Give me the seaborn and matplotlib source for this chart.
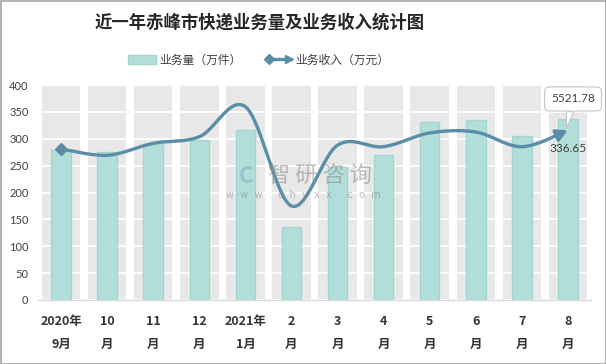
import numpy as np
import pandas as pd
import matplotlib
matplotlib.use("Agg")
import matplotlib.pyplot as plt
import seaborn as sns
from matplotlib.patches import Rectangle, Patch
from matplotlib.lines import Line2D
from matplotlib.legend_handler import HandlerBase

# ---------------- data ----------------
categories = ["2020年\n9月", "10\n月", "11\n月", "12\n月", "2021年\n1月", "2\n月",
              "3\n月", "4\n月", "5\n月", "6\n月", "7\n月", "8\n月"]
volume = [280, 275, 290, 297, 317, 135, 247, 269, 331, 334, 305, 336.65]      # 业务量（万件）
revenue = [4916, 4712, 5102, 5317, 6290, 3061, 5040, 4991, 5438, 5470, 4991, 5521.78]  # 业务收入（万元）
yticks_left = [0, 50, 100, 150, 200, 250, 300, 350, 400]
title = "近一年赤峰市快递业务量及业务收入统计图"
label_bar = "业务量（万件）"
label_line = "业务收入（万元）"

sns.set_theme(style="white")
plt.rcParams['font.family'] = ['Noto Sans CJK SC', 'DejaVu Sans']

BAR = "#b2deda"
BAR_EDGE = "#a3d6d1"
LINE = "#5a8ea7"
BAND = "#e8e8e8"
TXT = "#404040"

fig = plt.figure(figsize=(6.06, 3.64), dpi=100)
ax = fig.add_axes([38.3 / 606, 64 / 364, 552.4 / 606, 215 / 364])

n = len(categories)
pos = np.arange(n)
ymax = yticks_left[-1]

# grey background columns
ax.bar(pos, [ymax] * n, width=0.83, color=BAND, zorder=0.1, linewidth=0)

df = pd.DataFrame({"cat": categories, "vol": volume})
sns.barplot(data=df, x="cat", y="vol", width=0.43, color=BAR, edgecolor=BAR_EDGE,
            linewidth=1, saturation=1, ax=ax, zorder=2)

ax.set_ylim(0, ymax)
ax.set_xlim(-0.5, n - 0.5)
ax.set_yticks(yticks_left)
ax.set_axisbelow(True)
ax.yaxis.grid(True, color="white", linewidth=1.2)
ax.xaxis.grid(False)
for s in ["top", "right", "left"]:
    ax.spines[s].set_visible(False)
ax.spines["bottom"].set_color("#d9d9d9")
ax.spines["bottom"].set_linewidth(1)
ax.set_xlabel("")
ax.set_ylabel("")
ax.tick_params(axis="y", length=0, pad=7, labelsize=8, labelcolor=TXT)
ax.set_yticklabels([str(v) for v in yticks_left], fontfamily=["Lato", "DejaVu Sans"])
ax.tick_params(axis="x", which="major", length=0, pad=11)
ax.set_xticks(pos)
ax.set_xticklabels(categories, fontsize=9, fontweight="bold", color="#333333", linespacing=1.95)
ax.set_xticks(np.arange(-0.5, n, 1), minor=True)
ax.tick_params(axis="x", which="minor", length=4, color="#d9d9d9", width=1)

# secondary (hidden) axis for revenue line
ax2 = ax.twinx()
ax2.set_ylim(0, 7000)
ax2.axis("off")

# Catmull-Rom smoothing (Excel-like smoothed line)
def catmull(xs, ys, steps=30):
    P = np.column_stack([xs, ys]).astype(float)
    P = np.vstack([P[0], P, P[-1]])
    out = []
    for i in range(1, len(P) - 2):
        p0, p1, p2, p3 = P[i - 1], P[i], P[i + 1], P[i + 2]
        c1 = p1 + (p2 - p0) / 6
        c2 = p2 - (p3 - p1) / 6
        t = np.linspace(0, 1, steps, endpoint=(i == len(P) - 3))[:, None]
        seg = (1 - t) ** 3 * p1 + 3 * (1 - t) ** 2 * t * c1 + 3 * (1 - t) * t ** 2 * c2 + t ** 3 * p2
        out.append(seg)
    return np.vstack(out)

curve = catmull(pos, revenue)
ax2.plot(curve[:-4, 0], curve[:-4, 1], color=LINE, lw=2.4, solid_capstyle="round", zorder=5)
ax2.plot([pos[0]], [revenue[0]], marker="D", ms=6, color=LINE, zorder=6)
ax2.annotate("", xy=(curve[-1, 0], curve[-1, 1]), xytext=(curve[-8, 0], curve[-8, 1]),
             arrowprops=dict(arrowstyle="-|>,head_length=0.55,head_width=0.3", color=LINE, lw=2.4,
                             shrinkA=0, shrinkB=0), zorder=6)

# data labels
ax.text(568 / 606, 1 - 148 / 364, f"{volume[-1]:.2f}", transform=fig.transFigure,
        ha="center", va="center", fontsize=8.5,
        color=TXT, family=["Lato", "DejaVu Sans"], zorder=7)
ax2.annotate(f"{revenue[-1]:.2f}", xy=(pos[-1] - 0.03, revenue[-1] + 80), xytext=(573 / 606, 1 - 99 / 364),
             textcoords="figure fraction", ha="center", va="center", fontsize=8.5, color=TXT,
             family=["Lato", "DejaVu Sans"],
             bbox=dict(boxstyle="round,pad=0.55,rounding_size=0.4", fc="white", ec="#c8c8c8", lw=0.8),
             arrowprops=dict(arrowstyle="wedge,tail_width=0.6", fc="white", ec="#c8c8c8", lw=0.8,
                             shrinkA=0, shrinkB=0), zorder=8)

# watermark
fig.text(320 / 606, 1 - 176 / 364, "智 研 咨 询", fontsize=16, color="#8a8a8a", alpha=0.55,
         ha="center", va="center", zorder=10)
fig.text(303 / 606, 1 - 195 / 364, "w  w  w  .  c  h  y  x  x  .  c  o  m", fontsize=7, color="#8a8a8a",
         alpha=0.55, ha="center", va="center", family=["DejaVu Sans"], zorder=10)
fig.text(246 / 606, 1 - 176 / 364, "C", fontsize=16, color="#7fa8c0", alpha=0.5, fontweight="bold",
         ha="center", va="center", zorder=10)

# title
fig.text(260 / 606, 1 - 23 / 364, title, fontsize=12.5, fontweight="bold", color="#262626",
         ha="center", va="center")

# legend
class ArrowLineHandler(HandlerBase):
    def create_artists(self, legend, orig, xd, yd, w, h, fs, trans):
        y = yd + h / 2
        ln = Line2D([xd + 3, xd + w - 3], [y, y], color=LINE, lw=2.4, transform=trans)
        m1 = Line2D([xd + 3], [y], marker="D", ms=5, color=LINE, transform=trans)
        m2 = Line2D([xd + w - 2], [y], marker=">", ms=6, color=LINE, transform=trans)
        return [ln, m1, m2]

h_bar = Patch(facecolor=BAR, edgecolor=BAR_EDGE, label=label_bar)
h_line = Line2D([], [], color=LINE, label=label_line)
fig.legend(handles=[h_bar, h_line], labels=[label_bar, label_line], loc="center",
           bbox_to_anchor=(259 / 606, 1 - 60 / 364), ncol=2, frameon=False, fontsize=8.5,
           handlelength=2.3, handleheight=0.8, handletextpad=0.3, columnspacing=2.0,
           labelcolor=TXT, handler_map={h_line: ArrowLineHandler()})

# outer border
fig.patches.append(Rectangle((0.5 / 606, 0.5 / 364), 605 / 606, 363 / 364, transform=fig.transFigure,
                             fill=False, edgecolor="#a6a6a6", lw=1.2))

fig.savefig("out.png", dpi=100)
